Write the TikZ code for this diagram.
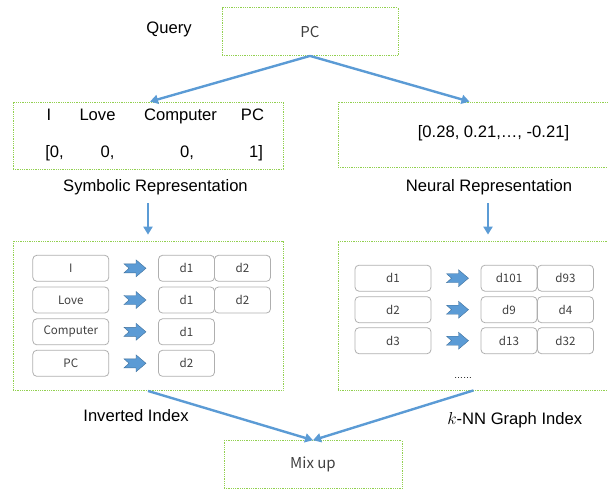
\documentclass[tikz,border=0pt]{standalone}
\usepackage{fontspec}
\setmainfont{Liberation Sans}
\newfontfamily\cjk{Noto Sans CJK SC}
\usetikzlibrary{arrows.meta,positioning,calc}
\definecolor{boxgreen}{RGB}{146,208,80}
\definecolor{flowblue}{RGB}{91,155,213}
\definecolor{arrowedge}{RGB}{65,113,156}
\definecolor{cellgray}{RGB}{175,175,175}
\definecolor{celltext}{RGB}{64,64,64}

\tikzset{
  pics/blockarr/.style={code={
    \draw[fill=flowblue, draw=arrowedge, line width=0.4pt]
      (-11,-4.5) -- (1,-4.5) -- (1,-8.5) -- (11,0) -- (1,8.5) -- (1,4.5) -- (-11,4.5) -- (-6,0) -- cycle;
  }}
}

\begin{document}
\begin{tikzpicture}[x=1pt, y=-1pt,
  frame/.style={draw=boxgreen, densely dotted, line width=0.8pt, inner sep=0pt},
  flow/.style={draw=flowblue, line width=2.4pt, -{Triangle[length=8pt,width=9pt]}},
  lbl/.style={font=\fontsize{16.6}{19}\selectfont, inner sep=0pt, text height=12pt, text depth=3.5pt},
  boxtext/.style={font=\cjk\fontsize{15}{18}\selectfont, text=celltext},
  cell/.style={draw=cellgray, rounded corners=4pt, line width=0.8pt, minimum height=26pt,
    inner sep=0pt, font=\cjk\fontsize{11.6}{14}\selectfont, text=celltext},
  wide/.style={cell, minimum width=76pt},
  narrow/.style={cell, minimum width=56pt}]

\useasboundingbox (0,0) rectangle (608,491);

% query and the two representations
\node[lbl] (querylbl) at (169,29) {Query};
\node[frame, boxtext, minimum width=176pt, minimum height=48pt] (query) at (310,31.5) {PC};

\node[frame, minimum width=270pt, minimum height=67pt] (sym) at (148,135.5) {};
\node[frame, minimum width=277pt, minimum height=65pt] (neu) at (476.5,134.5) {};

\foreach \x/\w [count=\i] in {49/I, 97.5/Love, 180.5/Computer, 252.5/PC}
  \node[lbl] (word\i) at (\x,116) {\w};
\foreach \x/\v [count=\i] in {54.5/{[0,}, 107.5/{0,}, 187/{0,}, 256/{1]}}
  \node[lbl] (val\i) at (\x,153) {\v};

\node[lbl] (vec) at (493.5,133) {[0.28, 0.21,\ldots, -0.21]};

\node[lbl] (symlbl) at (155.5,187.5) {Symbolic Representation};
\node[lbl] (neulbl) at (489,187.5) {Neural Representation};

\draw[flow] (query.south) -- ([xshift=2pt]sym.north);
\draw[flow] (query.south) -- ([xshift=-7pt]neu.north);

% the two indexes
\node[frame, minimum width=270pt, minimum height=149.5pt] (inv) at (148,315.8) {};
\node[frame, minimum width=277pt, minimum height=149pt] (knn) at (476.5,315.5) {};

\coordinate (symdown) at (148,203);
\coordinate (neudown) at (488,203);
\draw[flow, shorten >=6pt] (symdown) -- (symdown |- inv.north);
\draw[flow, shorten >=6pt] (neudown) -- (neudown |- knn.north);

% inverted index rows
\foreach \y/\w/\da/\db [count=\i] in {268.3/I/d1/d2, 300/Love/d1/d2, 331.8/Computer/d1/, 363.3/PC/d2/} {
  \node[wide] (term\i) at (70.8,\y) {\w};
  \pic at (135,\y) {blockarr};
  \node[narrow] (post\i a) at (186.5,\y) {\da};
}
\node[narrow] (post1b) at (242.5,268.3) {d2};
\node[narrow] (post2b) at (242.5,300) {d2};

% k-NN graph rows
\foreach \y/\d/\na/\nb [count=\i] in {278.2/d1/d101/d93, 309.7/d2/d9/d4, 340.7/d3/d13/d32} {
  \node[wide] (doc\i) at (393,\y) {\d};
  \pic at (457.5,\y) {blockarr};
  \node[narrow] (nbr\i a) at (509,\y) {\na};
  \node[narrow] (nbr\i b) at (565.5,\y) {\nb};
}
\node[font=\fontsize{9}{10}\selectfont, inner sep=0pt] (more) at (463,378) {\ldots\ldots};

\node[lbl] (invlbl) at (136,417.7) {Inverted Index};
\node[lbl] (knnlbl) at (514.7,420) {$k$-NN Graph Index};

% mixing
\node[frame, boxtext, minimum width=178pt, minimum height=48pt] (mix) at (313,464.6) {Mix up};
\draw[flow] (inv.south) -- (mix.north);
\draw[flow] ([xshift=-3pt]knn.south) -- (mix.north);
\end{tikzpicture}
\end{document}
